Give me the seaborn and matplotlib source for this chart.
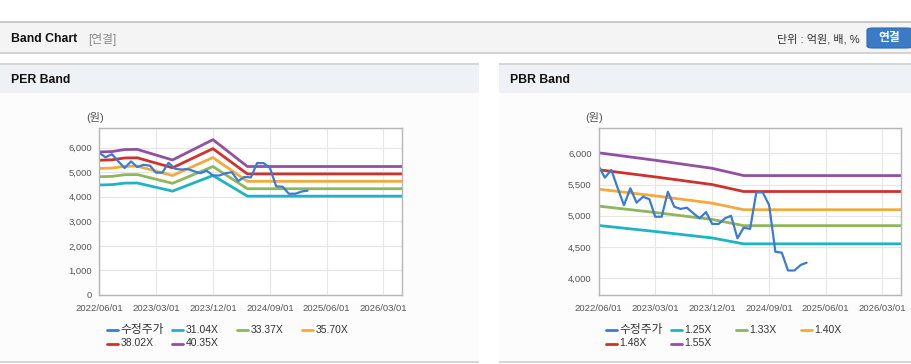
import matplotlib
matplotlib.use("Agg")
import matplotlib.pyplot as plt
from matplotlib.lines import Line2D
from matplotlib.patches import Rectangle, FancyBboxPatch
import pandas as pd
import seaborn as sns

W, H = 912, 364

# monthly adjusted price (수정주가), 2022/06 .. 2025/03
price_months = pd.date_range("2022-06-01", "2025-03-01", freq="MS")
price = [5790, 5610, 5735, 5440, 5170, 5440, 5210, 5305, 5265, 4985,
         4985, 5385, 5145, 5110, 5130, 5040, 4960, 5060, 4870, 4870,
         4960, 5000, 4640, 4810, 4790, 5375, 5375, 5170, 4425, 4410,
         4125, 4125, 4215, 4250]

# PER band: multiple x EPS
per_labels = ["31.04X", "33.37X", "35.70X", "38.02X", "40.35X"]
per_mult = [31.04, 33.37, 35.70, 38.02, 40.35]
eps_dates = ["2022-06-01", "2022-08-01", "2022-10-01", "2022-12-01",
             "2023-05-20", "2023-12-01", "2024-05-15", "2026-06-01"]
eps = [144.4, 144.8, 146.8, 147.0, 136.3, 156.8, 129.7, 129.7]

# PBR band: multiple x BPS
pbr_labels = ["1.25X", "1.33X", "1.40X", "1.48X", "1.55X"]
pbr_mult = [1.25, 1.33, 1.40, 1.48, 1.55]
bps_dates = ["2022-06-01", "2023-03-01", "2023-12-01", "2024-05-01", "2026-06-01"]
bps = [3876, 3799, 3716, 3641, 3641]

xtick_dates = ["2022-06-01", "2023-03-01", "2023-12-01", "2024-09-01", "2025-06-01", "2026-03-01"]
xtick_labels = [d.replace("-", "/") for d in xtick_dates]

price_color = "#3b7bd2"
band_colors = ["#1fb3c6", "#8fb65c", "#f3aa3c", "#cf322c", "#9350a2"]

sns.set_style("white")
plt.rcParams["font.family"] = ["Liberation Sans", "Noto Sans CJK KR"]

fig = plt.figure(figsize=(W / 100, H / 100), dpi=100)
fig.patch.set_facecolor("white")


def rect(x0, y0, x1, y1, color):
    fig.add_artist(Rectangle((x0 / W, 1 - y1 / H), (x1 - x0) / W, (y1 - y0) / H,
                             facecolor=color, edgecolor="none",
                             transform=fig.transFigure, zorder=-5))


# page header
rect(0, 21, W, 23, "#c9c9c9")
rect(0, 23, W, 52, "#f4f4f4")
rect(0, 52, W, 54, "#d3d3d3")
fig.text(11 / W, 1 - 39 / H, "Band Chart", fontsize=8.8, fontweight="bold",
         color="#111111", va="center")
fig.text(88 / W, 1 - 39 / H, "[연결]", fontsize=8.5, color="#8a8a8a", va="center")
fig.text(860 / W, 1 - 39 / H, "단위 : 억원, 배, %", fontsize=8, color="#333333",
         va="center", ha="right")
fig.add_artist(FancyBboxPatch((867 / W, 1 - 48 / H), 45 / W, 20 / H,
                              boxstyle="round,pad=0,rounding_size=0.006",
                              facecolor="#3a7bc6", edgecolor="#2f6aae", lw=0.8,
                              transform=fig.transFigure, zorder=-4))
fig.text(889 / W, 1 - 38.5 / H, "연결", fontsize=8.5, fontweight="bold",
         color="white", va="center", ha="center")

# panels
for px0, px1, title in [(0, 479, "PER Band"), (499, W, "PBR Band")]:
    rect(px0, 63, px1, 65, "#d6d6d6")
    rect(px0, 65, px1, 93, "#eef1f6")
    rect(px0, 93, px1, 361, "#fcfcfc")
    rect(px0, 361, px1, 363, "#d6d6d6")
    fig.text((px0 + 11.5) / W, 1 - 80 / H, title, fontsize=8.8, fontweight="bold",
             color="#111111", va="center")


def draw_panel(rect_px, labels, mult, kdates, base, ylim, yticks, legend_x):
    x0, y0, x1, y1 = rect_px
    ax = fig.add_axes([x0 / W, 1 - y1 / H, (x1 - x0) / W, (y1 - y0) / H])
    rows = []
    for lab, m in zip(labels, mult):
        for d, b in zip(kdates, base):
            rows.append({"date": pd.Timestamp(d), "value": m * b, "band": lab})
    bands = pd.DataFrame(rows)
    sns.lineplot(data=bands, x="date", y="value", hue="band", hue_order=labels,
                 palette=dict(zip(labels, band_colors)), estimator=None,
                 linewidth=2.0, legend=False, ax=ax)
    sns.lineplot(x=price_months, y=price, color=price_color, linewidth=1.6,
                 estimator=None, ax=ax)

    ax.set_facecolor("white")
    ax.set_xlim(pd.Timestamp("2022-06-01"), pd.Timestamp("2026-06-01"))
    ax.set_xticks([pd.Timestamp(t) for t in xtick_dates])
    ax.set_xticklabels(xtick_labels)
    ax.set_ylim(*ylim)
    ax.set_yticks(yticks)
    ax.set_yticklabels([f"{v:,}" for v in yticks])
    ax.set_xlabel("")
    ax.set_ylabel("")
    ax.grid(True, color="#e6e6e6", lw=0.8)
    ax.set_axisbelow(True)
    for sp in ax.spines.values():
        sp.set_color("#b5b5b5")
        sp.set_linewidth(1.0)
    ax.tick_params(axis="both", colors="#b5b5b5", labelcolor="#555555",
                   labelsize=6.8, length=3, width=0.8, pad=2)
    ax.tick_params(axis="x", pad=3.5)
    fig.text((x0 - 4.5) / W, 1 - 118 / H, "(원)", fontsize=8, color="#555555",
             va="center", ha="center")

    items = [("수정주가", price_color)] + list(zip(labels, band_colors))
    for i, (lab, c) in enumerate(items):
        r, col = divmod(i, 4)
        lx = legend_x + col * 65
        ly = 330 + r * 13.5
        fig.add_artist(Line2D([lx / W, (lx + 11) / W], [1 - ly / H, 1 - ly / H],
                              color=c, lw=2, transform=fig.transFigure))
        fig.text((lx + 13.5) / W, 1 - ly / H, lab, fontsize=8.5 if i == 0 else 7.5,
                 color="#333333", va="center", ha="left")
    return ax


draw_panel((99.3, 128.3, 402.3, 295.0), per_labels, per_mult, eps_dates, eps,
           (0, 6790), [0, 1000, 2000, 3000, 4000, 5000, 6000], 107.3)
draw_panel((598.7, 128.3, 901.3, 295.3), pbr_labels, pbr_mult, bps_dates, bps,
           (3728, 6400), [4000, 4500, 5000, 5500, 6000], 606)

fig.savefig("out.png", dpi=100)
